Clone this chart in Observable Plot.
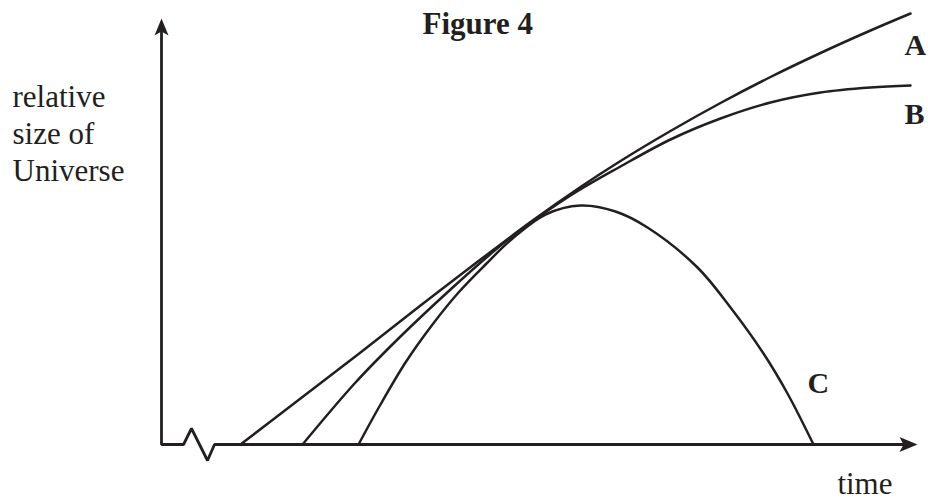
<!DOCTYPE html>
<html>
<head>
<meta charset="utf-8">
<script src="https://cdn.jsdelivr.net/npm/d3@7"></script>
<script src="https://cdn.jsdelivr.net/npm/@observablehq/plot@0.6"></script>
<style>
  html, body { margin: 0; padding: 0; background: #fff; }
</style>
</head>
<body>
<script>
// ---- data (time vs relative size; arbitrary units) ----
const seriesNames = ["A", "B", "C"];

const timeA = [79, 139, 199, 259, 319, 349, 369, 419, 459, 509, 559, 609, 659, 709, 749];
const sizeA = [0, 46, 92, 139, 185, 207.5, 222.5, 257.5, 283.5, 313.5, 341.5, 367.5, 391.5, 414, 431];

const timeB = [141, 194, 239, 289, 329, 349, 409, 459, 509, 559, 609, 659, 709, 749];
const sizeB = [0, 62, 108, 155, 190.5, 207, 249, 278, 305, 326, 342, 352, 357, 359];

const timeC = [197, 219, 244, 271, 297, 324, 351, 384, 419, 454, 486, 536, 569, 602, 626, 652];
const sizeC = [0, 40, 82, 120, 152, 180, 206, 230, 239, 233, 217, 177, 137, 91, 51, 0];

// axis extents and the broken-axis zigzag
const timeMax = 756;
const sizeMax = 426;
const axisTime = [0, 0, 22, 30, 46, 53, 746];
const axisSize = [412, 0, 0, 16, -16, 0, 0];

const titleText = "Figure 4";
const yLabel = "relative\nsize of\nUniverse";
const xLabel = "time";

// ---- build tables ----
const ink = "#231f20";
const curves = [
  ...timeA.map((t, i) => ({series: "A", time: t, size: sizeA[i]})),
  ...timeB.map((t, i) => ({series: "B", time: t, size: sizeB[i]})),
  ...timeC.map((t, i) => ({series: "C", time: t, size: sizeC[i]}))
];
const axisPath = axisTime.map((t, i) => ({time: t, size: axisSize[i]}));
const ends = seriesNames.map(s => {
  const pts = curves.filter(d => d.series === s);
  return pts[pts.length - 1];
});

// barbed filled arrowheads (tip at origin)
const arrowUp = {
  draw(ctx) {
    ctx.moveTo(0, 0); ctx.lineTo(7, 17); ctx.lineTo(0, 13); ctx.lineTo(-7, 17); ctx.closePath();
  }
};
const arrowRight = {
  draw(ctx) {
    ctx.moveTo(0, 0); ctx.lineTo(-18, 7.5); ctx.lineTo(-14, 0); ctx.lineTo(-18, -7.5); ctx.closePath();
  }
};

const labelOffsets = {A: [-6, 41], B: [-6, 38], C: [-6, -52]};

const chart = Plot.plot({
  width: 928,
  height: 502,
  marginLeft: 161,
  marginRight: 11,
  marginTop: 18,
  marginBottom: 58,
  x: {domain: [0, timeMax], axis: null},
  y: {domain: [0, sizeMax], axis: null},
  style: {fontFamily: "'Liberation Serif', 'Times New Roman', serif", background: "#fff", overflow: "visible"},
  marks: [
    Plot.line(axisPath, {x: "time", y: "size", stroke: ink, strokeWidth: 2.8, strokeLinejoin: "miter"}),
    Plot.dot([{time: 0, size: sizeMax}], {x: "time", y: "size", symbol: arrowUp, fill: ink, stroke: "none"}),
    Plot.dot([{time: timeMax, size: 0}], {x: "time", y: "size", symbol: arrowRight, fill: ink, stroke: "none"}),
    Plot.line(curves, {x: "time", y: "size", z: "series", stroke: ink, strokeWidth: 2.5, curve: "catmull-rom"}),
    ...ends.map(d => Plot.text([d], {
      x: "time", y: "size", text: "series",
      dx: labelOffsets[d.series][0], dy: labelOffsets[d.series][1],
      textAnchor: "start", lineAnchor: "bottom", fontSize: 30, fontWeight: "bold", fill: ink
    })),
    Plot.text([titleText], {text: d => d, frameAnchor: "top-left", dx: 261, dy: 15,
      textAnchor: "start", lineAnchor: "bottom", fontSize: 31, fontWeight: "bold", fill: ink}),
    Plot.text([yLabel], {text: d => d, frameAnchor: "top-left", dx: -149, dy: 162,
      textAnchor: "start", lineAnchor: "bottom", lineHeight: 1.18, fontSize: 31, fill: ink}),
    Plot.text([xLabel], {text: d => d, frameAnchor: "bottom-right", dx: -25, dy: 49,
      textAnchor: "end", lineAnchor: "bottom", fontSize: 31, fill: ink})
  ]
});
document.body.appendChild(chart);
</script>
</body>
</html>
